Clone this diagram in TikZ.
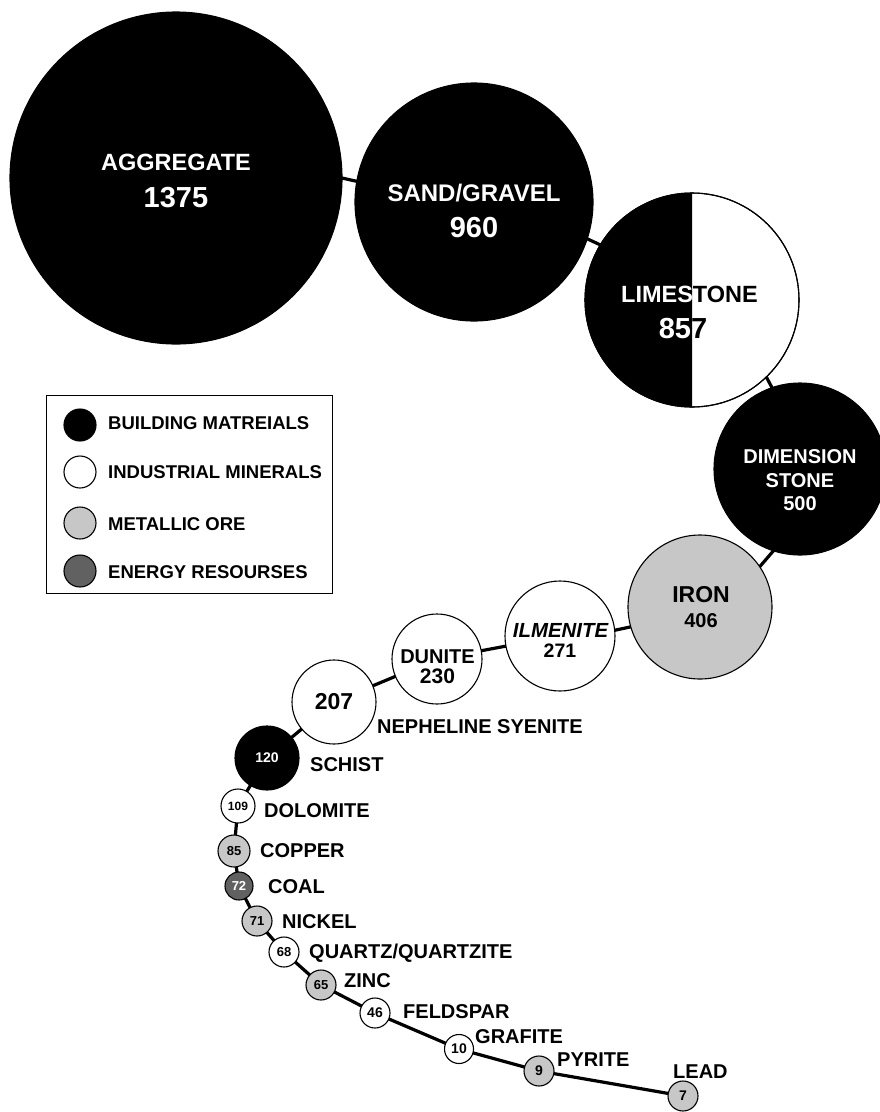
\documentclass[tikz,border=0pt]{standalone}
\usepackage{fontspec}
\setmainfont{Liberation Sans}
\newcommand\FS[1]{\fontsize{#1}{#1}\selectfont}
\pgfdeclarelayer{bg}
\pgfsetlayers{bg,main}
\begin{document}
\begin{tikzpicture}[x=1pt,y=-1pt,
  conn/.style={line width=3.2pt,shorten <=-4pt,shorten >=-4pt},
  bub/.style={circle,draw=black,line width=1.1pt,inner sep=0pt,outer sep=0pt},
  bm/.style={bub,fill=black,text=white},
  im/.style={bub,fill=white},
  mo/.style={bub,fill=black!22},
  en/.style={bub,fill=black!62,text=white},
  big/.style={anchor=base,inner sep=0pt,text=white,font=\bfseries\FS{#1}},
  txt/.style={anchor=base,inner sep=0pt,font=\bfseries\FS{#1}},
  lab/.style={anchor=base west,inner sep=0pt,font=\bfseries\FS{20}},
  leg/.style={anchor=base west,inner sep=0pt,font=\bfseries\FS{18.5}},
  num/.style={font=\bfseries\FS{#1}},
]
\useasboundingbox (0,0) rectangle (880,1112);

% big circles
\node[bm,minimum size=332pt] (agg) at (176,178) {};
\node[big=23.5] (aggL) at (176,170) {AGGREGATE};
\node[big=29] (aggN) at (176,207) {1375};

\node[bm,minimum size=238pt] (sand) at (474,202) {};
\node[big=24] (sandL) at (474,201) {SAND/GRAVEL};
\node[big=29] (sandN) at (474,237) {960};

\node[im,minimum size=214pt] (lime) at (692,300) {};
\begin{scope}
  \clip (580,180) rectangle (692,420);
  \fill[black] (lime.center) circle[radius=107];
  \node[big=23.5] (limeLw) at (689.5,302) {LIMESTONE};
  \node[big=29] (limeNw) at (683,338) {857};
\end{scope}
\begin{scope}
  \clip (692,180) rectangle (810,420);
  \node[txt=23.5] (limeLb) at (689.5,302) {LIMESTONE};
  \node[txt=29] (limeNb) at (683,338) {857};
\end{scope}
\draw[line width=1.1pt] (lime.center) circle[radius=107];

\node[bm,minimum size=172pt] (dim) at (800,469) {};
\node[big=20] (dimA) at (800,463) {DIMENSION};
\node[big=20] (dimB) at (800,487) {STONE};
\node[big=20] (dimC) at (800,510) {500};

\node[mo,minimum size=144pt] (iron) at (700,607) {};
\node[txt=23] (ironL) at (701,602) {IRON};
\node[txt=20] (ironN) at (701,627) {406};

\node[im,minimum size=110pt] (ilm) at (560,636) {};
\node[txt=20.4,font=\bfseries\itshape\FS{20.4}] (ilmL) at (560.5,637) {ILMENITE};
\node[txt=19.5] (ilmN) at (560,657) {271};

\node[im,minimum size=90pt] (dun) at (437,659) {};
\node[txt=20] (dunL) at (437.5,663) {DUNITE};
\node[txt=21] (dunN) at (437.5,683) {230};

\node[im,minimum size=84pt,num=23] (neph) at (334,702) {207};
\node[bm,minimum size=64pt,num=14] (sch) at (267,758) {120};

% small circles
\node[im,minimum size=34pt,num=12] (dol) at (238,806) {109};
\node[mo,minimum size=32pt,num=13] (cop) at (234,851) {85};
\node[en,minimum size=28pt,num=13] (coal) at (239,886) {72};
\node[mo,minimum size=30pt,num=13] (nick) at (257,921) {71};
\node[im,minimum size=30pt,num=13] (qtz) at (284,952) {68};
\node[mo,minimum size=30pt,num=13] (zinc) at (321,985) {65};
\node[im,minimum size=30pt,num=14] (feld) at (375,1013) {46};
\node[im,minimum size=29pt,num=14] (graf) at (459,1049) {10};
\node[mo,minimum size=30pt,num=14] (pyr) at (539,1071) {9};
\node[mo,minimum size=30pt,num=14] (lead) at (683,1096) {7};

% labels
\node[lab] (nephT) at (377,733) {NEPHELINE SYENITE};
\node[lab] (schT) at (310,771) {SCHIST};
\node[lab] (dolT) at (264,817) {DOLOMITE};
\node[lab] (copT) at (260,857) {COPPER};
\node[lab] (coalT) at (268,893) {COAL};
\node[lab] (nickT) at (282,928) {NICKEL};
\node[lab] (qtzT) at (309,958) {QUARTZ/QUARTZITE};
\node[lab] (zincT) at (344,987) {ZINC};
\node[lab] (feldT) at (403,1018) {FELDSPAR};
\node[lab] (grafT) at (475,1043) {GRAFITE};
\node[lab] (pyrT) at (557,1066) {PYRITE};
\node[lab] (leadT) at (673,1078) {LEAD};

% legend
\node[draw,line width=1.2pt,minimum width=286pt,minimum height=198pt,inner sep=0pt,anchor=north west] (legend) at (46,395) {};
\node[bm,minimum size=32pt] (lgA) at (80,425) {};
\node[im,minimum size=32pt] (lgB) at (80,472) {};
\node[mo,minimum size=32pt] (lgC) at (80,523) {};
\node[en,minimum size=32pt] (lgD) at (80,571) {};
\node[leg] (lgAt) at (108,429) {BUILDING MATREIALS};
\node[leg] (lgBt) at (108,478) {INDUSTRIAL MINERALS};
\node[leg] (lgCt) at (108,530) {METALLIC ORE};
\node[leg] (lgDt) at (108,578) {ENERGY RESOURSES};

\begin{pgfonlayer}{bg}
  \fill[white] (0,0) rectangle (880,1112);
  \draw[conn] (agg.0) -- (sand.170);
  \draw[conn] (sand.-18) -- (lime.149);
  \draw[conn] (lime.-46) -- (dim.109);
  \draw[conn] (dim.252) -- (iron.34);
  \draw[conn] (iron.196) -- (ilm.6);
  \draw[conn] (ilm) -- (dun);
  \draw[conn] (dun) -- (neph);
  \draw[conn] (neph) -- (sch);
  \draw[conn] (sch) -- (dol);
  \draw[conn] (dol) -- (cop);
  \draw[conn] (cop) -- (coal);
  \draw[conn] (coal) -- (nick);
  \draw[conn] (nick) -- (qtz);
  \draw[conn] (qtz) -- (zinc);
  \draw[conn] (zinc) -- (feld);
  \draw[conn] (feld) -- (graf);
  \draw[conn] (graf) -- (pyr);
  \draw[conn] (pyr) -- (lead);
\end{pgfonlayer}
\end{tikzpicture}
\end{document}
